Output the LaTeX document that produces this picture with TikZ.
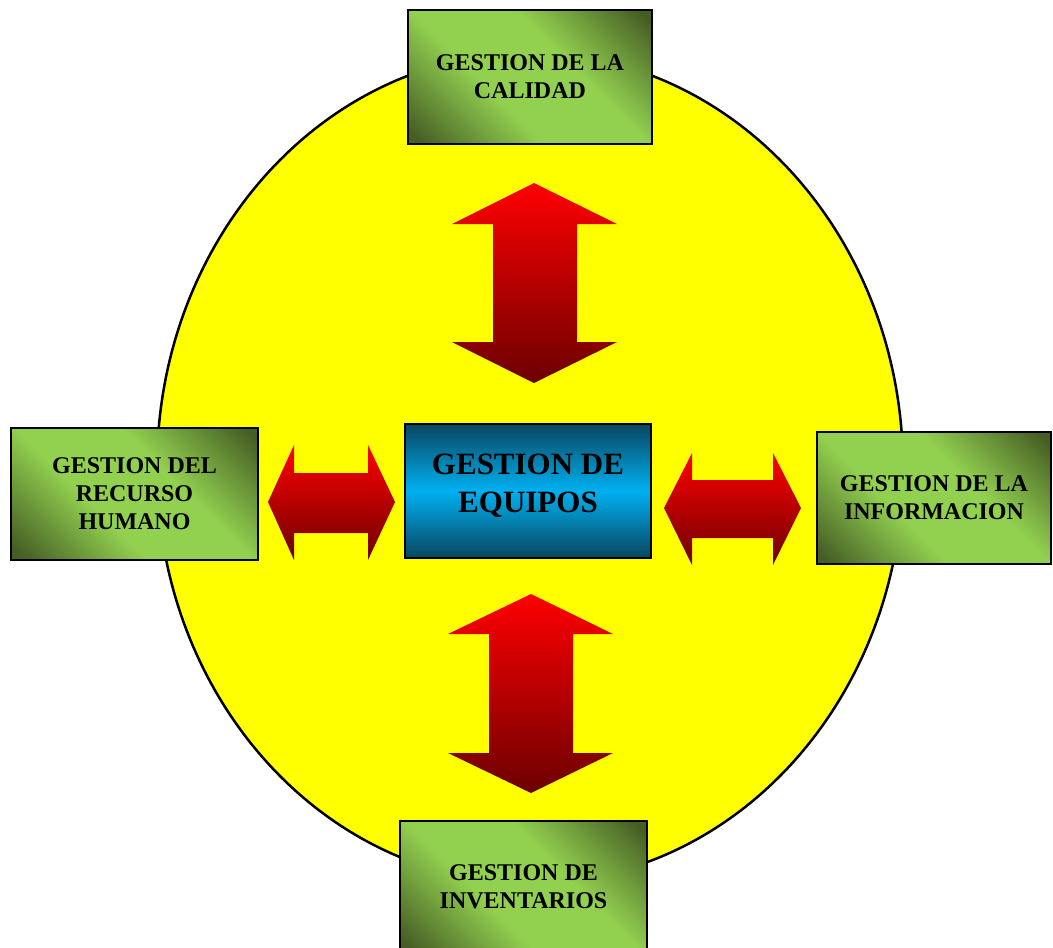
\documentclass[tikz,border=0pt]{standalone}
\usepackage{fontspec}
\setmainfont{Liberation Serif}
\definecolor{gdark}{RGB}{70,94,36}
\definecolor{glight}{RGB}{146,208,80}
\definecolor{bdark}{RGB}{8,70,96}
\definecolor{blight}{RGB}{0,176,240}
\definecolor{rtop}{RGB}{255,0,0}
\definecolor{rbot}{RGB}{108,0,0}
\definecolor{ellyellow}{RGB}{255,255,0}
\pgfdeclareverticalshading{greenshade}{100bp}{color(0bp)=(gdark); color(17bp)=(gdark);
  color(40bp)=(glight); color(60bp)=(glight); color(83bp)=(gdark); color(100bp)=(gdark)}
\begin{document}
\begin{tikzpicture}[x=1pt,y=-1pt,
  greenbox/.style={draw=black, line width=1.5pt, shading=greenshade, shading angle=-45,
    align=center, inner sep=0pt, font=\fontsize{24}{28}\selectfont\bfseries},
  bluebox/.style={draw=black, line width=1.5pt, top color=bdark, bottom color=bdark,
    middle color=blight, inner sep=0pt},
  bluetext/.style={align=center, inner sep=0pt, font=\fontsize{31}{38}\selectfont\bfseries},
  redarrow/.style={top color=rtop, bottom color=rbot}]
\useasboundingbox (0,0) rectangle (1053,948);
% ellipse
\draw[fill=ellyellow, line width=2.5pt] (530,468) ellipse [x radius=373, y radius=415];
% boxes
\node[greenbox, minimum width=244pt, minimum height=134pt] (cal) at (530,77) {GESTION DE LA\\CALIDAD};
\node[greenbox, minimum width=247pt, minimum height=132pt] (rh) at (134.5,494) {GESTION DEL\\RECURSO\\HUMANO};
\node[greenbox, minimum width=234pt, minimum height=132pt] (inf) at (934,498) {GESTION DE LA\\INFORMACION};
\node[greenbox, minimum width=247pt, minimum height=131pt] (inv) at (523.5,886.5) {GESTION DE\\INVENTARIOS};
\node[bluebox, minimum width=246pt, minimum height=134pt] (eq) at (528,491) {};
\node[bluetext] (eqt) at ([yshift=5pt]eq.center) {GESTION DE\\EQUIPOS};
% arrows
\shade[redarrow] (534,183) -- (617,224) -- (577,224) -- (577,342) -- (617,342) -- (534,383)
  -- (452,342) -- (493,342) -- (493,224) -- (452,224) -- cycle;
\shade[redarrow] (531,594) -- (613,634) -- (573,634) -- (573,753) -- (613,753) -- (531,793)
  -- (448,753) -- (489,753) -- (489,634) -- (448,634) -- cycle;
\shade[redarrow] (268,502) -- (294,445) -- (294,473) -- (368,473) -- (368,445) -- (395,502)
  -- (368,560) -- (368,533) -- (294,533) -- (294,560) -- cycle;
\shade[redarrow] (664,508) -- (692,453) -- (692,480) -- (773,480) -- (773,453) -- (801,508)
  -- (773,565) -- (773,538) -- (692,538) -- (692,565) -- cycle;
\end{tikzpicture}
\end{document}
